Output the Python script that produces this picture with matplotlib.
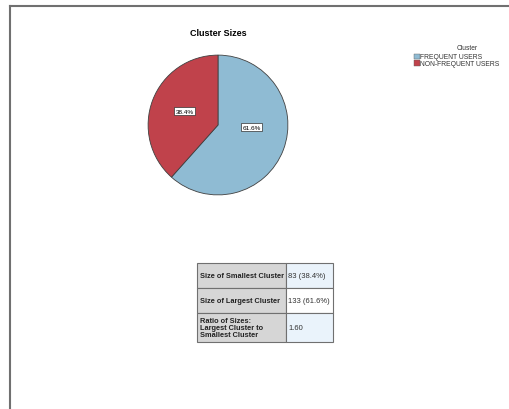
import matplotlib.pyplot as plt
from matplotlib.patches import Rectangle

plt.rcParams['font.family'] = ['Liberation Sans', 'DejaVu Sans']

# dados
clusters = ['FREQUENT USERS', 'NON-FREQUENT USERS']
percentuais = [61.6, 38.4]
cores = ['#8fbbd3', '#c0424b']

tabela_rotulos = ['Size of Smallest Cluster', 'Size of Largest Cluster',
                  'Ratio of Sizes:\nLargest Cluster to\nSmallest Cluster']
tabela_valores = ['83 (38.4%)', '133 (61.6%)', '1.60']

W, H = 509, 410
fig = plt.figure(figsize=(W / 100, H / 100), dpi=100)

# moldura (linhas esquerda e superior)
fig.add_artist(plt.Line2D([9.5 / W, 9.5 / W], [0, 1 - 7 / H], color='#707070', lw=1.5))
fig.add_artist(plt.Line2D([9.5 / W, 1], [1 - 7 / H, 1 - 7 / H], color='#707070', lw=1.5))

fig.text(218 / W, 1 - 34 / H, 'Cluster Sizes', ha='center', va='center',
         fontsize=6.5, fontweight='bold')

# pizza
cx, cy, r = 218, 126, 70
ax = fig.add_axes([(cx - r - 2) / W, 1 - (cy + r + 2) / H, (2 * r + 4) / W, (2 * r + 4) / H])
wedges, textos = ax.pie(percentuais, colors=cores, startangle=90, counterclock=False,
                        wedgeprops=dict(edgecolor='#404040', linewidth=0.6))
ax.set_xlim(-1.03, 1.03)
ax.set_ylim(-1.03, 1.03)
ax.set_aspect('equal')
ax.axis('off')

pos_rotulos = [(0.48, -0.03), (-0.48, 0.2)]
for p, (x, y) in zip(percentuais, pos_rotulos):
    ax.text(x, y, f'{p:.1f}%', ha='center', va='center', fontsize=4.6,
            bbox=dict(boxstyle='square,pad=0.25', fc='white', ec='#303030', lw=0.5))

# legenda
fig.text(467 / W, 1 - 48 / H, 'Cluster', ha='center', va='center', fontsize=4.8, color='#333333')
for i, (nome, cor) in enumerate(zip(clusters, cores)):
    y = 57.5 + i * 6.5
    fig.add_artist(Rectangle((414 / W, 1 - (y + 2.7) / H), 5.5 / W, 5.4 / H,
                             facecolor=cor, edgecolor='#606060', lw=0.3))
    fig.text(420.5 / W, 1 - y / H, nome, ha='left', va='center', fontsize=4.9, color='#333333')

# tabela
tx0, ty0, tx1, ty1 = 197, 264, 333, 343
tab = fig.add_axes([tx0 / W, 1 - ty1 / H, (tx1 - tx0) / W, (ty1 - ty0) / H])
tab.set_xlim(0, tx1 - tx0)
tab.set_ylim(ty1 - ty0, 0)
tab.axis('off')
col1 = 89
alturas = [25, 25, 29]
fundo_valores = ['#eaf3fb', '#ffffff', '#eaf3fb']
y = 0
for rot, val, h, fv in zip(tabela_rotulos, tabela_valores, alturas, fundo_valores):
    tab.add_patch(Rectangle((0, y), col1, h, facecolor='#d6d6d6', edgecolor='#707070',
                            lw=0.8, clip_on=False))
    tab.add_patch(Rectangle((col1, y), tx1 - tx0 - col1, h, facecolor=fv, edgecolor='#707070',
                            lw=0.8, clip_on=False))
    tab.text(2.5, y + h / 2, rot, ha='left', va='center', fontsize=5.3,
             fontweight='bold', color='#222222', linespacing=1.0)
    tab.text(col1 + 2.5, y + h / 2, val, ha='left', va='center', fontsize=5.5, color='#333333')
    y += h

fig.savefig('out.png', dpi=100, facecolor='white')
